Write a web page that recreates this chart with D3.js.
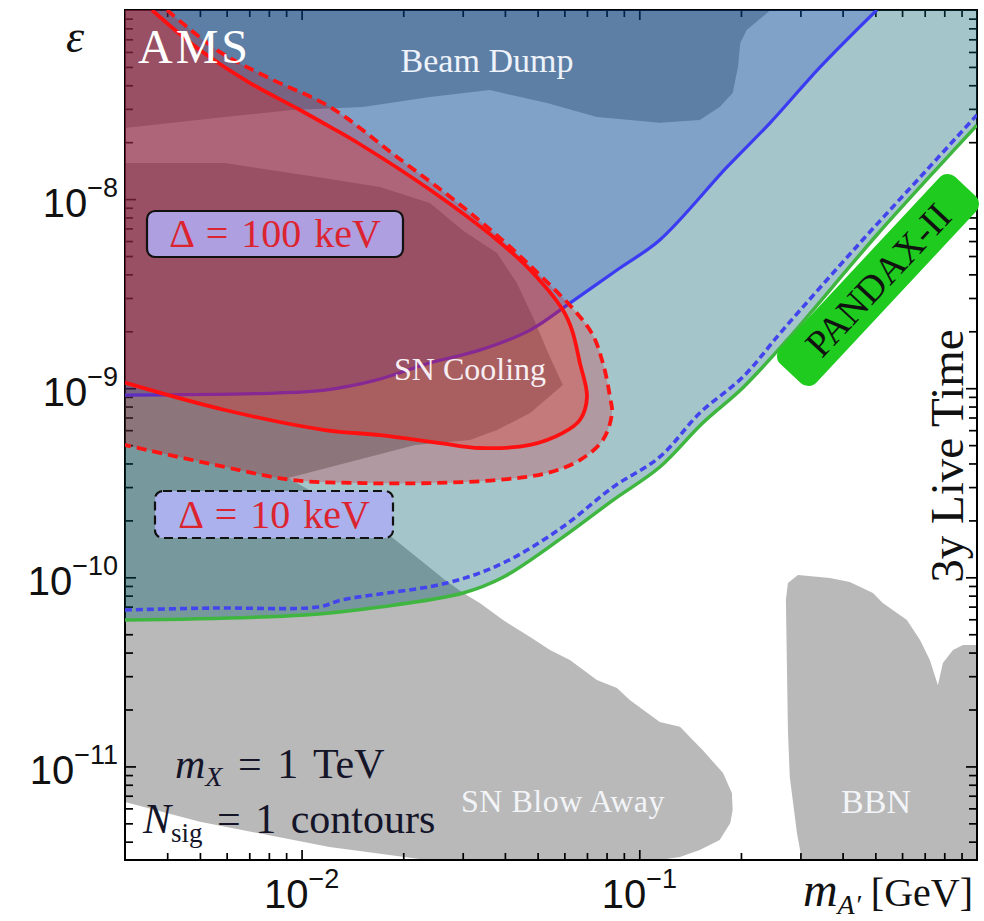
<!DOCTYPE html>
<html>
<head>
<meta charset="utf-8">
<script src="https://cdn.jsdelivr.net/npm/d3@7"></script>
<style>
  body { margin: 0; background: #fff; }
  svg { display: block; }
</style>
</head>
<body>
<svg id="chart" width="984" height="921"></svg>
<script>
// ---- axes -------------------------------------------------------------
const massDomain = [0.003, 1.0];          // m_A' [GeV]
const epsDomain  = [3.2e-12, 1e-7];       // kinetic mixing epsilon
const xMajorTicks = [0.01, 0.1];
const xMajorLabels = ["\u22122", "\u22121"];
const yMajorTicks = [1e-8, 1e-9, 1e-10, 1e-11];
const yMajorLabels = ["\u22128", "\u22129", "\u221210", "\u221211"];

// ---- excluded regions (mass [GeV], epsilon) ---------------------------
// lower edge of the beam-dump exclusion (region extends to the top)
const beamDumpEdge = [
  [0.0030, 2.38e-8], [0.00593, 2.72e-8], [0.00937, 2.96e-8], [0.0152, 3.07e-8],
  [0.0240, 3.47e-8], [0.0361, 3.77e-8], [0.0533, 3.22e-8], [0.0749, 2.72e-8],
  [0.115, 2.53e-8], [0.151, 2.62e-8], [0.173, 3.07e-8], [0.189, 3.64e-8],
  [0.196, 4.99e-8], [0.199, 6.69e-8], [0.208, 7.84e-8], [0.239, 9.64e-8],
  [0.244, 1.0e-7]
];
// supernova cooling + blow-away exclusion, outline traced clockwise
const supernovaEdge = [
  [0.0030, 1.55e-8], [0.00593, 1.55e-8], [0.01173, 1.29e-8], [0.01707, 1.16e-8],
  [0.0240, 9.54e-9], [0.0299, 6.86e-9], [0.0379, 5.19e-9], [0.0434, 3.60e-9],
  [0.0484, 2.38e-9], [0.0544, 1.46e-9], [0.0594, 1.04e-9], [0.0475, 7.39e-10],
  [0.0379, 6.01e-10], [0.0315, 5.32e-10], [0.0217, 5.01e-10], [0.00912, 3.35e-10],
  [0.01852, 1.63e-10], [0.0266, 9.67e-11], [0.0301, 8.26e-11], [0.0337, 7.31e-11],
  [0.0395, 5.94e-11], [0.0475, 4.83e-11], [0.0544, 4.13e-11], [0.0623, 3.65e-11],
  [0.0749, 2.86e-11], [0.0859, 2.60e-11], [0.0939, 2.24e-11], [0.115, 1.72e-11],
  [0.132, 1.62e-11], [0.144, 1.38e-11], [0.154, 1.22e-11], [0.177, 9.23e-12],
  [0.188, 7.24e-12], [0.189, 5.88e-12], [0.186, 5.02e-12], [0.173, 4.08e-12],
  [0.151, 3.61e-12], [0.132, 3.32e-12], [0.115, 3.2e-12], [0.0235, 3.2e-12],
  [0.0121, 3.75e-12], [0.0050, 5.1e-12], [0.0030, 6.48e-12]
];
// big-bang nucleosynthesis exclusion
const bbnEdge = [
  [0.2717, 7.59e-11], [0.2755, 9.33e-11], [0.295, 1.03e-10], [0.367, 9.91e-11],
  [0.420, 9.44e-11], [0.492, 8.26e-11], [0.526, 7.31e-11], [0.620, 5.94e-11],
  [0.678, 4.66e-11], [0.725, 3.65e-11], [0.766, 2.69e-11], [0.7925, 3.52e-11],
  [0.849, 4.13e-11], [0.9085, 4.39e-11], [1.0, 4.39e-11], [1.0, 3.2e-12],
  [0.303, 3.2e-12], [0.293, 4.44e-12], [0.279, 8.79e-12], [0.2755, 1.56e-11]
];

// ---- N_sig = 1 contours ----------------------------------------------
const pandaxCurve = [
  [0.0030, 5.94e-11], [0.01023, 6.32e-11], [0.01707, 6.97e-11], [0.0301, 8.26e-11],
  [0.0395, 1.00e-10], [0.0594, 1.63e-10], [0.0836, 2.56e-10], [0.115, 3.83e-10],
  [0.154, 6.55e-10], [0.203, 1.01e-9], [0.274, 1.80e-9], [0.505, 6.46e-9],
  [0.7925, 1.57e-8], [1.0, 2.46e-8]
];
const liveTimeCurve = [
  [0.0030, 6.72e-11], [0.00543, 6.88e-11], [0.01118, 6.97e-11], [0.01317, 7.59e-11],
  [0.02695, 9.33e-11], [0.0395, 1.19e-10], [0.0594, 1.85e-10], [0.0836, 3.00e-10],
  [0.115, 4.33e-10], [0.151, 7.39e-10], [0.203, 1.15e-9], [0.266, 2.03e-9],
  [0.450, 5.86e-9], [0.711, 1.43e-8], [1.0, 2.79e-8]
];
const blueCurve = [
  [0.0030, 9.20e-10], [0.00834, 9.43e-10], [0.01173, 9.78e-10], [0.0165, 1.10e-9],
  [0.0240, 1.36e-9], [0.0337, 1.59e-9], [0.0475, 2.03e-9], [0.0623, 2.82e-9],
  [0.0876, 4.32e-9], [0.115, 6.08e-9], [0.182, 1.48e-8], [0.244, 2.53e-8],
  [0.343, 4.99e-8], [0.505, 1.0e-7]
];
const ams100keV = [
  [0.003606, 1.0e-7], [0.0050, 6.14e-8], [0.00704, 4.11e-8], [0.00989, 2.96e-8],
  [0.01214, 2.41e-8], [0.01469, 1.98e-8], [0.0240, 1.12e-8], [0.0379, 6.08e-9],
  [0.0475, 4.22e-9], [0.0594, 2.59e-9], [0.0632, 2.03e-9], [0.0667, 1.36e-9],
  [0.0700, 8.98e-10], [0.0667, 6.79e-10], [0.0594, 5.80e-10], [0.0475, 5.01e-10],
  [0.0337, 4.83e-10], [0.0257, 5.13e-10], [0.01707, 5.65e-10], [0.01173, 6.01e-10],
  [0.00593, 7.67e-10], [0.0030, 1.07e-9]
];
const ams10keV = [
  [0.003995, 1.0e-7], [0.00562, 6.14e-8], [0.0079, 4.42e-8], [0.01214, 3.07e-8],
  [0.01916, 1.67e-8], [0.03006, 9.08e-9], [0.0475, 4.45e-9], [0.0714, 2.03e-9],
  [0.0780, 1.36e-9], [0.0819, 8.98e-10], [0.0830, 7.39e-10], [0.0780, 5.32e-10],
  [0.0667, 4.17e-10], [0.0533, 3.56e-10], [0.0379, 3.27e-10], [0.0240, 3.15e-10],
  [0.0152, 3.15e-10], [0.00937, 3.27e-10], [0.00593, 3.83e-10], [0.0030, 5.01e-10]
];

// ---- drawing ------------------------------------------------------------
const plot = { left: 125, right: 977, top: 10, bottom: 860 };
const svg = d3.select("#chart");
const x = d3.scaleLog().domain(massDomain).range([plot.left, plot.right]);
const y = d3.scaleLog().domain(epsDomain).range([plot.bottom, plot.top]);

const SERIF = "'Liberation Serif','DejaVu Serif','Times New Roman',serif";
const SANS = "'Liberation Sans',Arial,Helvetica,sans-serif";

svg.append("defs").append("clipPath").attr("id", "plotClip")
  .append("rect")
  .attr("x", plot.left).attr("y", plot.top)
  .attr("width", plot.right - plot.left).attr("height", plot.bottom - plot.top);

const straight = d3.line().x(d => x(d[0])).y(d => y(d[1]));
const smooth = d3.line().x(d => x(d[0])).y(d => y(d[1])).curve(d3.curveCatmullRom.alpha(0.5));
const corner = (m, e) => `L${x(m)},${y(e)}`;
const [mLo, mHi] = massDomain;
const [eLo, eHi] = epsDomain;

// opaque excluded regions
const grayLayer = svg.append("g").attr("clip-path", "url(#plotClip)");
grayLayer.append("path").attr("d", straight(supernovaEdge) + "Z").attr("fill", "#b9b9b9");
grayLayer.append("path").attr("d", straight(bbnEdge) + "Z").attr("fill", "#b9b9b9");
grayLayer.append("path").attr("d", straight(beamDumpEdge) + corner(mLo, eHi) + "Z").attr("fill", "#b9b9b9");

// frame and ticks
const frame = svg.append("g");
function ticks(gen, vals, size) {
  const g = frame.append("g").call(gen.tickValues(vals).tickSize(-size).tickFormat(""));
  g.select(".domain").remove();
  g.selectAll(".tick line").attr("stroke", "#000").attr("stroke-width", 1.7);
  return g;
}
const xMinor = x.ticks().filter(v => v > mLo * 1.001 && v < mHi * 0.999 && !xMajorTicks.some(t => Math.abs(t - v) / t < 1e-6));
const yMinor = y.ticks().filter(v => v > eLo * 1.001 && v < eHi * 0.999 && !yMajorTicks.some(t => Math.abs(t - v) / t < 1e-6));
[[d3.axisBottom(x), plot.bottom], [d3.axisTop(x), plot.top]].forEach(([gen, pos]) => {
  ticks(gen, xMinor, 7).attr("transform", `translate(0,${pos})`);
});
[[d3.axisBottom(x), plot.bottom], [d3.axisTop(x), plot.top]].forEach(([gen, pos]) => {
  ticks(gen, xMajorTicks, 10).attr("transform", `translate(0,${pos})`);
});
[[d3.axisLeft(y), plot.left], [d3.axisRight(y), plot.right]].forEach(([gen, pos]) => {
  ticks(gen, yMinor, 8).attr("transform", `translate(${pos},0)`);
});
[[d3.axisLeft(y), plot.left], [d3.axisRight(y), plot.right]].forEach(([gen, pos]) => {
  ticks(gen, yMajorTicks, 11).attr("transform", `translate(${pos},0)`);
});
frame.append("rect")
  .attr("x", plot.left).attr("y", plot.top)
  .attr("width", plot.right - plot.left).attr("height", plot.bottom - plot.top)
  .attr("fill", "none").attr("stroke", "#000").attr("stroke-width", 2);

// translucent reach regions
const tint = svg.append("g").attr("clip-path", "url(#plotClip)");
tint.append("path")
  .attr("d", smooth(pandaxCurve) + corner(mHi, eHi) + corner(mLo, eHi) + "Z")
  .attr("fill", "rgb(0,92,104)").attr("fill-opacity", 0.357);
tint.append("path")
  .attr("d", smooth(blueCurve) + corner(mLo, eHi) + "Z")
  .attr("fill", "rgb(0,36,201)").attr("fill-opacity", 0.217);

// boundary of the blue reach, drawn beneath the red shading
const underLines = svg.append("g").attr("clip-path", "url(#plotClip)").attr("fill", "none");
underLines.append("path").attr("d", smooth(blueCurve))
  .attr("stroke", "#3b3bf2").attr("stroke-width", 3.2);

const redLayer = svg.append("g").attr("clip-path", "url(#plotClip)");
redLayer.append("path")
  .attr("d", smooth(ams10keV) + corner(mLo, eHi) + "Z")
  .attr("fill", "rgb(219,1,15)").attr("fill-opacity", 0.22);
redLayer.append("path")
  .attr("d", smooth(ams100keV) + corner(mLo, eHi) + "Z")
  .attr("fill", "rgb(255,28,10)").attr("fill-opacity", 0.253);

// contour lines on top
const overLines = svg.append("g").attr("clip-path", "url(#plotClip)").attr("fill", "none");
overLines.append("path").attr("d", smooth(pandaxCurve))
  .attr("stroke", "#3fb63f").attr("stroke-width", 3.5);
overLines.append("path").attr("d", smooth(liveTimeCurve))
  .attr("stroke", "#4444ee").attr("stroke-width", 3.6).attr("stroke-dasharray", "7,4");
overLines.append("path").attr("d", smooth(ams10keV))
  .attr("stroke", "#ff1414").attr("stroke-width", 3.8).attr("stroke-dasharray", "10,6");
overLines.append("path").attr("d", smooth(ams100keV))
  .attr("stroke", "#ff1010").attr("stroke-width", 3.8);

// ---- annotations --------------------------------------------------------
const notes = svg.append("g").attr("font-family", SERIF);
function note(txt, px, py, size, fill, anchor = "start", extra = {}) {
  const t = notes.append("text").attr("x", px).attr("y", py)
    .attr("font-size", size).attr("fill", fill).attr("text-anchor", anchor).text(txt);
  Object.entries(extra).forEach(([k, v]) => t.attr(k, v));
  return t;
}
note("AMS", 138, 63, 48, "#fff", "start", { "letter-spacing": 3 });
note("Beam Dump", 487, 72, 34, "#eef2fa", "middle");
note("SN Cooling", 470, 380, 32, "#f7eef4", "middle");
note("SN Blow Away", 563, 812, 32, "#f2f4f7", "middle", { "letter-spacing": 0.5 });
note("BBN", 876, 813, 34, "#f2f4f7", "middle");

// m_X = 1 TeV
const mx = notes.append("text").attr("x", 175).attr("y", 778).attr("font-size", 42)
  .attr("fill", "#15152a").attr("word-spacing", 5);
mx.append("tspan").attr("font-style", "italic").text("m");
mx.append("tspan").attr("font-style", "italic").attr("font-size", 28).attr("dy", 8).text("X");
mx.append("tspan").attr("dy", -8).text(" = 1 TeV");
// N_sig = 1 contours
const ns = notes.append("text").attr("x", 143).attr("y", 833).attr("font-size", 42)
  .attr("fill", "#15152a").attr("word-spacing", 4);
ns.append("tspan").attr("font-style", "italic").text("N");
ns.append("tspan").attr("font-size", 27).attr("dy", 9).text("sig");
ns.append("tspan").attr("dy", -9).text(" = 1 contours");

// Delta labels in boxes
function deltaBox(label, bx, by, bw, bh, fill, dashed) {
  const g = notes.append("g");
  g.append("rect").attr("x", bx).attr("y", by).attr("width", bw).attr("height", bh)
    .attr("rx", 8).attr("fill", fill).attr("stroke", "#111").attr("stroke-width", 2.2)
    .attr("stroke-dasharray", dashed ? "9,5" : null);
  g.append("text").attr("x", bx + bw / 2).attr("y", by + bh - 10)
    .attr("text-anchor", "middle").attr("font-size", 40).attr("fill", "#dc2430")
    .attr("word-spacing", 3).text(label);
}
deltaBox("\u0394 = 100 keV", 147, 211, 256, 46, "#ae9fe0", false);
deltaBox("\u0394 = 10 keV", 155, 491, 238, 47, "#abb1ec", true);

// PANDAX-II tag along the reach curve
const tag = notes.append("g").attr("transform", "translate(878,280) rotate(-47)");
tag.append("rect").attr("x", -128).attr("y", -25).attr("width", 256).attr("height", 50)
  .attr("rx", 11).attr("fill", "#1ecb1e");
tag.append("text").attr("text-anchor", "middle").attr("y", 13)
  .attr("font-size", 38).attr("fill", "#111").text("PANDAX-II");

// vertical exposure note
notes.append("text").attr("transform", "translate(963,456) rotate(-90)")
  .attr("text-anchor", "middle").attr("font-size", 47).attr("fill", "#111")
  .text("3y Live Time");

// ---- tick labels and axis titles ---------------------------------------
const labels = svg.append("g").attr("font-family", SANS).attr("fill", "#111");
yMajorTicks.forEach((v, i) => {
  const t = labels.append("text").attr("x", 118).attr("y", y(v) + 18)
    .attr("text-anchor", "end").attr("font-size", 40);
  t.append("tspan").text("10");
  t.append("tspan").attr("dy", -20).attr("font-size", 27).text(yMajorLabels[i]);
});
xMajorTicks.forEach((v, i) => {
  const t = labels.append("text").attr("x", x(v)).attr("y", 908)
    .attr("text-anchor", "middle").attr("font-size", 40);
  t.append("tspan").text("10");
  t.append("tspan").attr("dy", -20).attr("font-size", 27).text(xMajorLabels[i]);
});

svg.append("text").attr("x", 66).attr("y", 52).attr("font-family", SERIF)
  .attr("font-style", "italic").attr("font-size", 46).attr("fill", "#111").text("\u03b5");

const xt = svg.append("text").attr("x", 973).attr("y", 906).attr("text-anchor", "end")
  .attr("font-family", SERIF).attr("font-size", 40).attr("fill", "#111");
xt.append("tspan").attr("font-style", "italic").attr("font-size", 48).text("m");
xt.append("tspan").attr("font-style", "italic").attr("font-size", 28).attr("dy", 8).text("A\u2032");
xt.append("tspan").attr("dy", -8).text(" [GeV]");
</script>
</body>
</html>
